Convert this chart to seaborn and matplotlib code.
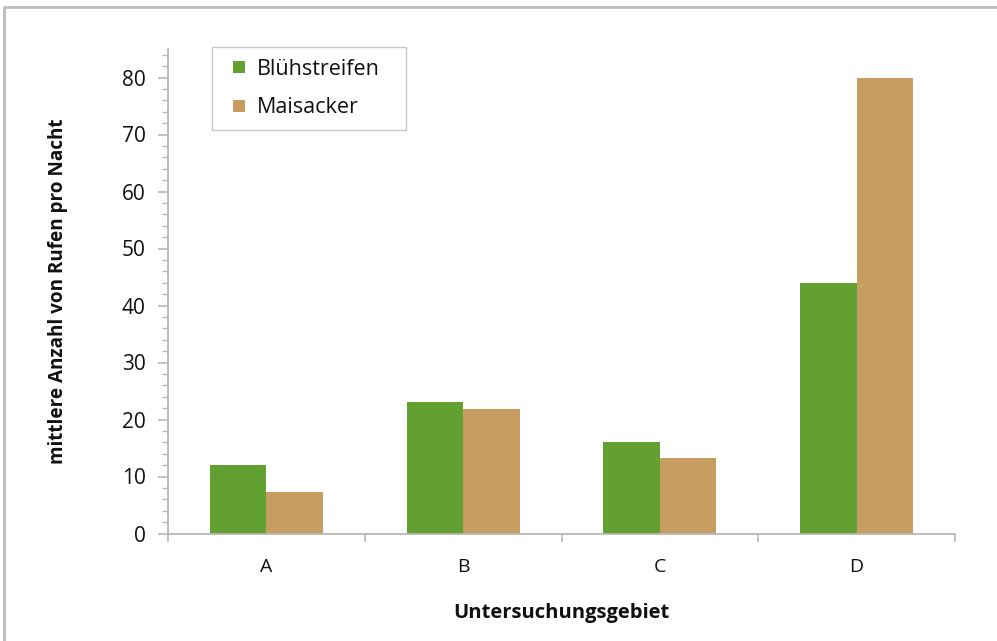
import matplotlib
matplotlib.use("Agg")
import matplotlib.pyplot as plt
import seaborn as sns
import pandas as pd
from matplotlib.lines import Line2D
from matplotlib.ticker import MultipleLocator

categories = ["A", "B", "C", "D"]
bluehstreifen = [12.0, 23.0, 16.1, 44.0]
maisacker = [7.2, 21.8, 13.2, 80.0]
series_names = ["Blühstreifen", "Maisacker"]
colors = ["#62A031", "#C89D62"]

df = pd.DataFrame({
    "Gebiet": categories * 2,
    "Wert": bluehstreifen + maisacker,
    "Serie": [series_names[0]] * 4 + [series_names[1]] * 4,
})

sns.set_theme(style="white")
plt.rcParams["font.family"] = ["Open Sans", "DejaVu Sans"]

fig = plt.figure(figsize=(9.97, 6.41), dpi=100)
ax = fig.add_axes([168/997, 107.5/641, (955-168)/997, (533.5-49)/641])

sns.barplot(data=df, x="Gebiet", y="Wert", hue="Serie", palette=colors,
            width=0.574, saturation=1, ax=ax, linewidth=0, legend=False)

ax.set_xlim(-0.5, 3.5)
ax.set_ylim(0, 85)
ax.yaxis.set_major_locator(MultipleLocator(10))
ax.yaxis.set_minor_locator(MultipleLocator(2))
ax.set_yticks(range(0, 90, 10))

gray = "#b8b8b8"
for s in ["top", "right"]:
    ax.spines[s].set_visible(False)
for s in ["left", "bottom"]:
    ax.spines[s].set_color(gray)
    ax.spines[s].set_linewidth(1.3)

ax.tick_params(axis="y", which="major", direction="out", length=7, width=1.2,
               color=gray, labelsize=15, pad=9, left=True, labelcolor="#111111")
ax.tick_params(axis="y", which="minor", direction="out", length=4, width=1.0,
               color=gray, left=True)
ax.set_xticks([0, 1, 2, 3])
ax.set_xticklabels(categories)
ax.tick_params(axis="x", which="major", length=0, labelsize=14, pad=18,
               labelcolor="#111111")
# category boundary ticks
ax.set_xticks([-0.5, 0.5, 1.5, 2.5, 3.5], minor=True)
ax.tick_params(axis="x", which="minor", direction="out", length=6, width=1.2,
               color=gray, bottom=True)

ax.set_xlabel("Untersuchungsgebiet", fontsize=14.5, fontweight="bold",
              labelpad=19, color="#111111")
ax.set_ylabel("mittlere Anzahl von Rufen pro Nacht", fontsize=13.6,
              fontweight="bold", labelpad=39, color="#111111")

handles = [Line2D([], [], linestyle="none", marker="s", markersize=9,
                  markerfacecolor=c, markeredgewidth=0) for c in colors]
leg = ax.legend(handles, series_names, loc="upper left",
                bbox_to_anchor=(44/787, 0, 194/787, 1.004), mode="expand",
                fontsize=15.5, frameon=True, fancybox=False, edgecolor="#bbbbbb",
                handlelength=1.4, handletextpad=0.15,
                borderpad=0.55, labelspacing=0.8, borderaxespad=0)
leg.get_frame().set_linewidth(1.0)
for t in leg.get_texts():
    t.set_color("#111111")

# outer chart border (top and left visible)
fig.add_artist(Line2D([4/997, 4/997, 1.0], [0.0, 1 - 7/641, 1 - 7/641],
                      transform=fig.transFigure, color="#bcbcbc", linewidth=2))

fig.savefig("out.png", dpi=100)
